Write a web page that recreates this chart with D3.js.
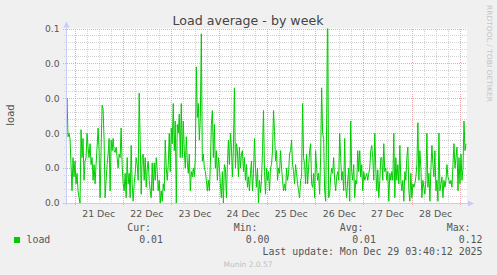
<!DOCTYPE html>
<html><head><meta charset="utf-8">
<script src="https://cdn.jsdelivr.net/npm/d3@7"></script>
<style>
html,body{margin:0;padding:0;background:#f0f0f0;}
svg{display:block;}
</style></head>
<body>
<script>
// ---------- data ----------
const title = "Load average - by week";
const seriesName = "load";
const startTime = new Date(2025, 11, 20, 19, 40);
const endTime = new Date(2025, 11, 29, 3, 40);
const stepMinutes = 30;
const yTickValues = [0, 0.02, 0.04, 0.06, 0.08, 0.1];
const yTickLabels = ["0.0", "0.0", "0.0", "0.0", "0.0", "0.1"];
const dayLabels = ["21 Dec","22 Dec","23 Dec","24 Dec","25 Dec","26 Dec","27 Dec","28 Dec"];
const legendHeaders = ["Cur:", "Min:", "Avg:", "Max:"];
const legendValues = ["0.01", "0.00", "0.01", "0.12"];
const lastUpdate = "Last update: Mon Dec 29 03:40:12 2025";
const footer = "Munin 2.0.57";
const sideText = "RRDTOOL / TOBI OETIKER";
const loadValues = [
 0.040,0.060,0.038,0.040,0.037,0.022,0.007,0.026,0.015,0.024,0.011,0.017,0.007,0.003,0.000,0.042,0.026,0.037,0.013,0.024,
 0.026,0.040,0.032,0.026,0.034,0.022,0.026,0.013,0.022,0.011,0.022,0.032,0.043,0.030,0.003,0.030,0.056,0.054,0.036,0.003,
 0.013,0.022,0.028,0.037,0.007,0.036,0.030,0.037,0.030,0.029,0.032,0.026,0.020,0.028,0.026,0.043,0.022,0.011,0.007,0.017,
 0.003,0.026,0.011,0.017,0.003,0.033,0.011,0.001,0.011,0.017,0.026,0.022,0.013,0.063,0.036,0.005,0.026,0.028,0.013,
 0.026,0.009,0.020,0.024,0.013,0.007,0.003,0.023,0.007,0.023,0.013,0.026,0.018,0.007,0.013,0.000,0.007,0.001,0.011,0.007,
 0.036,0.020,0.013,0.022,0.040,0.018,0.043,0.034,0.057,0.030,0.047,0.000,0.045,0.040,0.051,0.026,0.057,0.026,0.047,0.030,
 0.020,0.038,0.024,0.017,0.028,0.007,0.018,0.015,0.020,0.015,0.026,0.078,0.049,0.057,0.036,0.049,0.097,0.024,0.028,0.020,
 0.018,0.013,0.007,0.013,0.007,0.022,0.045,0.053,0.026,0.045,0.020,0.030,0.013,0.026,0.020,0.011,0.003,0.018,0.000,0.022,
 0.020,0.003,0.022,0.036,0.022,0.040,0.032,0.015,0.032,0.066,0.020,0.034,0.030,0.015,0.032,0.020,0.028,0.030,0.018,
 0.026,0.013,0.022,0.009,0.015,0.007,0.017,0.024,0.007,0.017,0.037,0.020,0.009,0.020,0.000,0.013,0.006,0.013,0.030,0.053,
 0.018,0.005,0.020,0.013,0.018,0.007,0.020,0.022,0.030,0.053,0.041,0.024,0.030,0.013,0.020,0.017,0.030,0.020,0.013,0.007,
 0.011,0.007,0.020,0.013,0.017,0.028,0.030,0.036,0.022,0.018,0.011,0.022,0.017,0.011,0.007,0.003,0.013,0.015,0.057,0.026,
 0.022,
 0.011,0.028,0.011,0.020,0.030,0.034,0.011,0.009,0.017,0.003,0.030,0.020,0.013,0.017,0.005,0.026,0.066,0.040,0.037,
 0.007,0.001,0.045,0.120,0.003,0.005,0.015,0.020,0.017,0.026,0.013,0.007,0.015,0.018,0.013,0.040,0.026,0.013,0.018,0.007,
 0.037,0.009,0.003,0.013,0.020,0.001,0.047,0.018,0.013,0.022,0.003,0.013,0.011,0.030,0.018,0.030,0.015,0.022,0.007,0.018,
 0.013,0.015,0.017,0.013,0.017,0.020,0.030,0.033,0.026,0.013,0.040,0.020,0.007,0.019,0.003,0.013,0.026,0.026,0.013,0.034,
 0.018,
 0.020,0.013,0.018,0.001,0.017,0.013,0.018,0.013,0.040,0.003,0.026,0.013,0.022,0.011,0.033,0.013,0.007,0.013,0.001,0.018,
 0.013,0.026,0.032,0.007,0.001,0.017,0.003,0.011,0.009,0.011,0.015,0.022,0.046,0.013,0.030,0.020,0.003,0.013,0.009,
 0.005,0.013,0.040,0.009,0.017,0.001,0.020,0.033,0.022,0.015,0.030,0.007,0.013,0.001,0.040,0.007,0.011,0.015,0.003,0.013,
 0.009,0.013,0.022,0.015,0.013,0.011,0.013,0.009,0.022,0.034,0.020,0.026,0.032,0.007,0.026,0.011,0.028,0.013,0.020,0.047,
 0.030,0.034
];

// ---------- layout ----------
const W = 497, H = 275;
const plot = {left: 66, right: 467, top: 28.5, bottom: 203};
const FONT = "'DejaVu Sans', sans-serif";
const MONO = "'DejaVu Sans Mono', monospace";

const svg = d3.select("body").append("svg").attr("width", W).attr("height", H);
svg.append("rect").attr("width", W).attr("height", H).attr("fill", "#f0f0f0");

const x = d3.scaleTime().domain([startTime, endTime]).range([plot.left, plot.right]);
const y = d3.scaleLinear().domain([0, 0.1]).range([plot.bottom, plot.top]);

const data = loadValues.map((v, i) => ({t: new Date(startTime.getTime() + i * stepMinutes * 60000), v}));

// plot background
svg.append("rect").attr("x", plot.left).attr("y", plot.top)
  .attr("width", plot.right - plot.left).attr("height", plot.bottom - plot.top).attr("fill", "#ffffff");

const grid = svg.append("g").attr("shape-rendering", "crispEdges");
// minor horizontal
const yMinor = d3.range(0, 101, 4).map(d => d / 1000).filter(d => !yTickValues.some(t => Math.abs(t - d) < 1e-9));
grid.selectAll(".hmin").data(yMinor).enter().append("line")
  .attr("x1", plot.left - 2).attr("x2", plot.right)
  .attr("y1", d => Math.round(y(d)) + 0.5).attr("y2", d => Math.round(y(d)) + 0.5)
  .attr("stroke", "#d2d2d2").attr("stroke-dasharray", "1,1");
// minor vertical (6 hours)
const xMinor = x.ticks(d3.timeHour.every(6)).filter(d => d.getHours() !== 0);
grid.selectAll(".vmin").data(xMinor).enter().append("line")
  .attr("x1", d => Math.round(x(d)) + 0.5).attr("x2", d => Math.round(x(d)) + 0.5)
  .attr("y1", plot.top).attr("y2", plot.bottom + 2)
  .attr("stroke", "#d2d2d2").attr("stroke-dasharray", "1,1");
// major horizontal
grid.selectAll(".hmaj").data(yTickValues).enter().append("line")
  .attr("x1", plot.left - 3).attr("x2", plot.right)
  .attr("y1", d => Math.round(y(d)) + 0.5).attr("y2", d => Math.round(y(d)) + 0.5)
  .attr("stroke", "#eeaaaa").attr("stroke-dasharray", "1,1");
// major vertical (days)
const xMajor = x.ticks(d3.timeDay.every(1));
grid.selectAll(".vmaj").data(xMajor).enter().append("line")
  .attr("x1", d => Math.round(x(d)) + 0.5).attr("x2", d => Math.round(x(d)) + 0.5)
  .attr("y1", plot.top).attr("y2", plot.bottom + 3)
  .attr("stroke", "#eeaaaa").attr("stroke-dasharray", "1,1");

// data line
svg.append("clipPath").attr("id", "clip").append("rect")
  .attr("x", plot.left).attr("y", plot.top).attr("width", plot.right - plot.left).attr("height", plot.bottom - plot.top);
svg.append("path").datum(data)
  .attr("clip-path", "url(#clip)")
  .attr("fill", "none").attr("stroke", "#00cc00").attr("stroke-width", 1)
  .attr("d", d3.line().x(d => x(d.t)).y(d => y(d.v)));

// axes
const axisColor = "#c8ccf8";
svg.append("line").attr("x1", plot.left + 0.5).attr("x2", plot.left + 0.5)
  .attr("y1", plot.top - 1).attr("y2", plot.bottom + 2).attr("stroke", axisColor).attr("shape-rendering", "crispEdges");
svg.append("line").attr("x1", plot.left - 2).attr("x2", plot.right + 1)
  .attr("y1", plot.bottom + 0.5).attr("y2", plot.bottom + 0.5).attr("stroke", axisColor).attr("shape-rendering", "crispEdges");
svg.append("path").attr("d", `M${plot.left - 2.5},${plot.top - 1} L${plot.left + 3.5},${plot.top - 1} L${plot.left + 0.5},${plot.top - 7} Z`).attr("fill", axisColor);
svg.append("path").attr("d", `M${plot.right + 1},${plot.bottom - 2.5} L${plot.right + 1},${plot.bottom + 3.5} L${plot.right + 7},${plot.bottom + 0.5} Z`).attr("fill", axisColor);

// y labels
svg.selectAll(".ylab").data(yTickValues).enter().append("text")
  .attr("x", 59.5).attr("y", d => y(d) + 3.3)
  .attr("text-anchor", "end").attr("font-family", FONT).attr("font-size", 9.2).attr("fill", "#555")
  .text((d, i) => yTickLabels[i]);

// x labels at noon
svg.selectAll(".xlab").data(dayLabels).enter().append("text")
  .attr("x", (d, i) => x(d3.timeHour.offset(xMajor[i], 12)))
  .attr("y", 216.5)
  .attr("text-anchor", "middle").attr("font-family", FONT).attr("font-size", 9.4).attr("fill", "#555")
  .text(d => d);

// title
svg.append("text").attr("x", 248).attr("y", 24.5).attr("text-anchor", "middle")
  .attr("font-family", FONT).attr("font-size", 12.6).attr("fill", "#444").text(title);

// y axis title
svg.append("text").attr("transform", "translate(14,115) rotate(-90)")
  .attr("text-anchor", "middle").attr("font-family", FONT).attr("font-size", 10).attr("fill", "#555").text(seriesName);

// side text
svg.append("text").attr("transform", "translate(486.5,5) rotate(90)")
  .attr("font-family", FONT).attr("font-size", 7).attr("fill", "#c4c4c4")
  .attr("textLength", 97).attr("lengthAdjust", "spacingAndGlyphs").text(sideText);

// legend
const headerX = [151, 257.5, 363.5, 470.5];
const valueX = [163, 269.5, 376, 482.5];
svg.selectAll(".lh").data(legendHeaders).enter().append("text")
  .attr("x", (d, i) => headerX[i]).attr("y", 230.5).attr("text-anchor", "end")
  .attr("font-family", MONO).attr("font-size", 9.9).attr("fill", "#555").text(d => d);
svg.selectAll(".lv").data(legendValues).enter().append("text")
  .attr("x", (d, i) => valueX[i]).attr("y", 242.5).attr("text-anchor", "end")
  .attr("font-family", MONO).attr("font-size", 9.9).attr("fill", "#555").text(d => d);
svg.append("rect").attr("x", 14).attr("y", 237).attr("width", 6).attr("height", 6).attr("fill", "#00cc00");
svg.append("text").attr("x", 26.5).attr("y", 242.5).attr("font-family", MONO).attr("font-size", 9.9)
  .attr("fill", "#555").text(seriesName);
svg.append("text").attr("x", 482.5).attr("y", 254.5).attr("text-anchor", "end")
  .attr("font-family", MONO).attr("font-size", 9.9).attr("fill", "#555").text(lastUpdate);
svg.append("text").attr("x", 248).attr("y", 266.5).attr("text-anchor", "middle")
  .attr("font-family", FONT).attr("font-size", 7.5).attr("fill", "#c0c0c0").text(footer);
</script>
</body></html>
